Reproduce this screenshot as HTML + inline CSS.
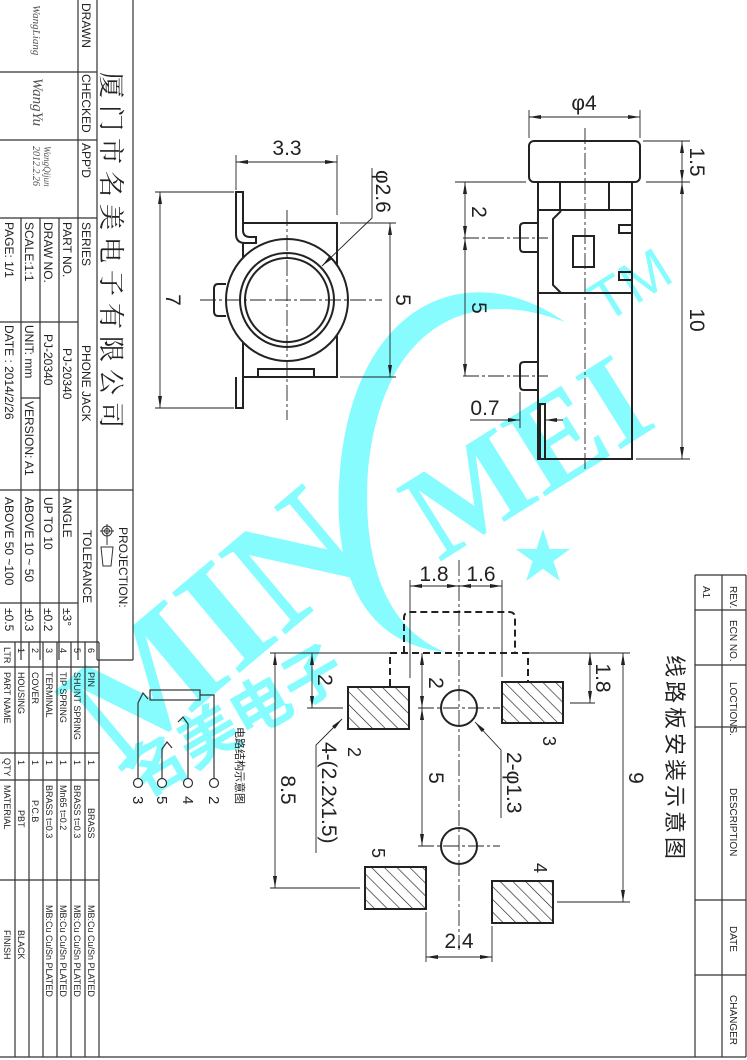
<!DOCTYPE html>
<html><head><meta charset="utf-8"><style>
html,body{margin:0;padding:0;background:#fff;}
svg{display:block;}
text{font-family:"Liberation Sans","Noto Sans CJK SC",sans-serif;fill:#222;}
.n{font-family:"Liberation Sans Narrow","Liberation Sans","Noto Sans CJK SC",sans-serif;}
.d{font-size:21px;}
.wm{fill:#86fcff;font-family:"Liberation Serif",serif;font-weight:bold;}
</style></head><body>
<svg width="747" height="1060" viewBox="0 0 747 1060" xmlns="http://www.w3.org/2000/svg">
<defs>
<marker id="a" viewBox="0 0 12 4" refX="12" refY="2" markerWidth="13" markerHeight="4" markerUnits="userSpaceOnUse" orient="auto-start-reverse"><path d="M0,0 L12,2 L0,4 z" fill="#222"/></marker>
<pattern id="h" width="9" height="9" patternUnits="userSpaceOnUse" patternTransform="rotate(-45)"><line x1="0" y1="0" x2="0" y2="9" stroke="#222" stroke-width="1.3"/></pattern>
</defs>

<g fill="#86fcff">
<path d="M565,322 C470,255 355,300 340,470 C330,585 372,645 445,652 C385,628 362,560 368,470 C382,325 470,285 565,322 Z"/>
<text class="wm" x="212" y="680" transform="rotate(-40 212 628)" font-size="160" text-anchor="middle">MIN</text>
<text class="wm" x="527" y="500" transform="rotate(-32 527 458)" font-size="130" text-anchor="middle">MEI</text>
<text x="630" y="305" transform="rotate(-32 630 285)" font-size="58" text-anchor="middle" style="fill:#86fcff">TM</text>
<text x="543" y="577" font-size="58" text-anchor="middle" style="fill:#86fcff">★</text>
<text x="235" y="742" transform="rotate(-30 235 722)" font-size="60" text-anchor="middle" style="fill:#86fcff;font-family:'Noto Sans CJK SC',sans-serif;font-weight:bold">名美电子</text>
</g>

<g stroke="#333" fill="none" stroke-width="1.2">
<line x1="133" y1="0" x2="133" y2="660"/>
<line x1="97" y1="0" x2="97" y2="660"/>
<line x1="78" y1="0" x2="78" y2="490"/>
<line x1="0" y1="72" x2="97" y2="72"/>
<line x1="0" y1="140" x2="97" y2="140"/>
<line x1="0" y1="218" x2="97" y2="218"/>
<line x1="59" y1="218" x2="59" y2="490"/>
<line x1="40" y1="218" x2="40" y2="490"/>
<line x1="21" y1="218" x2="21" y2="490"/>
<line x1="0" y1="322" x2="78" y2="322"/>
<line x1="21" y1="398" x2="40" y2="398"/>
<line x1="0" y1="490" x2="133" y2="490"/>
<line x1="78" y1="490" x2="78" y2="660"/>
<line x1="59" y1="490" x2="59" y2="660"/>
<line x1="40" y1="490" x2="40" y2="660"/>
<line x1="21" y1="490" x2="21" y2="660"/>
<line x1="0" y1="603" x2="78" y2="603"/>
<line x1="97" y1="660" x2="133" y2="660"/>
<line x1="0" y1="642" x2="99" y2="642"/>
<line x1="99" y1="642" x2="99" y2="1057"/>
<line x1="85" y1="642" x2="85" y2="1057"/>
<line x1="71" y1="642" x2="71" y2="1057"/>
<line x1="57" y1="642" x2="57" y2="1057"/>
<line x1="43" y1="642" x2="43" y2="1057"/>
<line x1="29" y1="642" x2="29" y2="1057"/>
<line x1="15" y1="642" x2="15" y2="1057"/>
<line x1="0" y1="667" x2="99" y2="667"/>
<line x1="0" y1="753" x2="99" y2="753"/>
<line x1="0" y1="780" x2="99" y2="780"/>
<line x1="0" y1="880" x2="99" y2="880"/>
<line x1="0" y1="1057" x2="746" y2="1057"/>
<line x1="695" y1="575" x2="746" y2="575"/>
<line x1="695" y1="575" x2="695" y2="1057"/>
<line x1="722" y1="575" x2="722" y2="1057"/>
<line x1="746" y1="575" x2="746" y2="1057"/>
<line x1="695" y1="610" x2="746" y2="610"/>
<line x1="695" y1="665" x2="746" y2="665"/>
<line x1="695" y1="727" x2="746" y2="727"/>
<line x1="695" y1="900" x2="746" y2="900"/>
<line x1="695" y1="975" x2="746" y2="975"/>
</g>

<g class="n" font-size="12">
<text transform="translate(82,3) rotate(90)">DRAWN</text>
<text transform="translate(82,74) rotate(90)">CHECKED</text>
<text transform="translate(82,143) rotate(90)">APP'D</text>
<text transform="translate(82,222) rotate(90)">SERIES</text>
<text transform="translate(82,345) rotate(90)">PHONE JACK</text>
<text transform="translate(63,222) rotate(90)">PART  NO.</text>
<text transform="translate(63,348) rotate(90)">PJ-20340</text>
<text transform="translate(44,222) rotate(90)">DRAW NO.</text>
<text transform="translate(44,334) rotate(90)">PJ-20340</text>
<text transform="translate(25,222) rotate(90)">SCALE:1:1</text>
<text transform="translate(25,325) rotate(90)">UNIT: mm</text>
<text transform="translate(25,401) rotate(90)">VERSION: A1</text>
<text transform="translate(5,222) rotate(90)">PAGE:  1/1</text>
<text transform="translate(5,325) rotate(90)">DATE : 2014/2/26</text>
<text transform="translate(119,527) rotate(90)">PROJECTION:</text>
<text transform="translate(83,530) rotate(90)">TOLERANCE</text>
<text transform="translate(63,497) rotate(90)">ANGLE</text>
<text transform="translate(63,608) rotate(90)">±3°</text>
<text transform="translate(44,497) rotate(90)">UP TO 10</text>
<text transform="translate(44,608) rotate(90)">±0.2</text>
<text transform="translate(25,497) rotate(90)">ABOVE 10 ~ 50</text>
<text transform="translate(25,608) rotate(90)">±0.3</text>
<text transform="translate(5,497) rotate(90)">ABOVE 50 ~100</text>
<text transform="translate(5,608) rotate(90)">±0.5</text>
</g>
<text transform="translate(102,72) rotate(90)" font-size="26" letter-spacing="7" style="font-family:'Noto Serif CJK SC','Noto Sans CJK SC',serif">厦门市名美电子有限公司</text>
<g>
<text transform="translate(33,5) rotate(90)" font-size="11" style="fill:#555;font-family:'Liberation Serif',serif;font-style:italic">WangLiang</text>
<text transform="translate(33,78) rotate(90)" font-size="15" style="fill:#555;font-family:'Liberation Serif',serif;font-style:italic">WangYu</text>
<text transform="translate(44,146) rotate(90)" font-size="9" style="fill:#555;font-family:'Liberation Serif',serif;font-style:italic">WangQijun</text>
<text transform="translate(33,146) rotate(90)" font-size="10" style="fill:#555;font-family:'Liberation Serif',serif;font-style:italic">2012.2.26</text>
</g>
<g stroke="#333" fill="none" stroke-width="1">
<circle cx="107" cy="531" r="5"/><circle cx="107" cy="531" r="2.5"/>
<line x1="100" y1="531" x2="114" y2="531"/><line x1="107" y1="524" x2="107" y2="545"/>
<path d="M101,547 L113,547 L111,566 L103,566 Z"/>
</g>

<g class="n" font-size="9">
<text transform="translate(4,647) rotate(90)">LTR</text>
<text transform="translate(4,672) rotate(90)">PART NAME</text>
<text transform="translate(4,758) rotate(90)">QTY</text>
<text transform="translate(4,785) rotate(90)">MATERIAL</text>
<text transform="translate(4,930) rotate(90)">FINISH</text>
<text transform="translate(18,648) rotate(90)">1</text><text transform="translate(18,672) rotate(90)">HOUSING</text><text transform="translate(18,760) rotate(90)">1</text><text transform="translate(18,810) rotate(90)">PBT</text><text transform="translate(18,930) rotate(90)">BLACK</text>
<text transform="translate(32,648) rotate(90)">2</text><text transform="translate(32,672) rotate(90)">COVER</text><text transform="translate(32,760) rotate(90)">1</text><text transform="translate(32,800) rotate(90)">P.C.B</text>
<text transform="translate(46,648) rotate(90)">3</text><text transform="translate(46,672) rotate(90)">TERMINAL</text><text transform="translate(46,760) rotate(90)">1</text><text transform="translate(46,785) rotate(90)">BRASS  t=0.3</text><text transform="translate(46,905) rotate(90)">MB:Cu   Cu/Sn   PLATED</text>
<text transform="translate(60,648) rotate(90)">4</text><text transform="translate(60,672) rotate(90)">TIP  SPRING</text><text transform="translate(60,760) rotate(90)">1</text><text transform="translate(60,785) rotate(90)">Mn65  t=0.2</text><text transform="translate(60,905) rotate(90)">MB:Cu   Cu/Sn   PLATED</text>
<text transform="translate(74,648) rotate(90)">5</text><text transform="translate(74,672) rotate(90)">SHUNT  SPRING</text><text transform="translate(74,760) rotate(90)">1</text><text transform="translate(74,785) rotate(90)">BRASS  t=0.3</text><text transform="translate(74,905) rotate(90)">MB:Cu   Cu/Sn   PLATED</text>
<text transform="translate(88,648) rotate(90)">6</text><text transform="translate(88,672) rotate(90)">PIN</text><text transform="translate(88,760) rotate(90)">1</text><text transform="translate(88,808) rotate(90)">BRASS</text><text transform="translate(88,905) rotate(90)">MB:Cu   Cu/Sn   PLATED</text>
</g>
<g class="n" font-size="10">
<text transform="translate(730,586) rotate(90)">REV.</text>
<text transform="translate(730,620) rotate(90)">ECN NO.</text>
<text transform="translate(730,682) rotate(90)">LOCTIONS.</text>
<text transform="translate(730,788) rotate(90)">DESCRIPTION</text>
<text transform="translate(730,926) rotate(90)">DATE</text>
<text transform="translate(730,995) rotate(90)">CHANGER</text>
<text transform="translate(703,586) rotate(90)">A1</text>
</g>
<text transform="translate(667,655) rotate(90)" font-size="22" letter-spacing="4" style="font-family:'Noto Sans CJK SC',sans-serif">线路板安装示意图</text>

<g stroke="#333" fill="none" stroke-width="1.2">
<circle cx="138" cy="783" r="4.5" fill="#fff"/><circle cx="162" cy="783" r="4.5" fill="#fff"/><circle cx="188" cy="783" r="4.5" fill="#fff"/><circle cx="214" cy="783" r="4.5" fill="#fff"/>
<polyline points="138,779 138,703 143,693 148,699"/>
<rect x="150" y="690" width="50" height="10"/>
<polyline points="200,695 214,695 214,779"/>
<polyline points="188,779 188,724 183,717 178,722"/>
<polyline points="162,779 162,749 167,742 172,748"/>
</g>
<g font-size="15">
<text transform="translate(133,796) rotate(90)">3</text>
<text transform="translate(157,796) rotate(90)">5</text>
<text transform="translate(183,796) rotate(90)">4</text>
<text transform="translate(209,796) rotate(90)">2</text>
</g>
<text transform="translate(236,727) rotate(90)" font-size="11" style="font-family:'Noto Sans CJK SC',sans-serif">电路结构示意图</text>

<g stroke="#222" fill="none" stroke-width="2">
<path d="M243,223 L337,223 L337,377 L243,377 Z"/>
<path d="M236,192 L243,192 L243,230 Q243,237 250,237 L256,237 L256,243 L245,243 Q236,243 236,234 Z" fill="#fff"/>
<path d="M236,377 L236,408 L243,408 L243,377"/>
<path d="M226,284 L218,284 Q214,284 214,289 L214,311 Q214,316 218,316 L226,316"/>
<circle cx="287" cy="300" r="61" fill="#fff"/>
<circle cx="287" cy="300" r="47"/>
<circle cx="287" cy="300" r="42"/>
<rect x="258" y="369" width="56" height="8" fill="#fff"/>
</g>
<g stroke="#222" stroke-width="0.9" fill="none">
<line x1="200" y1="300" x2="382" y2="300" stroke-dasharray="16 3 3 3"/>
<line x1="287" y1="210" x2="287" y2="420" stroke-dasharray="16 3 3 3"/>
<line x1="236" y1="155" x2="236" y2="190"/><line x1="337" y1="155" x2="337" y2="215"/>
<line x1="236" y1="162" x2="337" y2="162" marker-start="url(#a)" marker-end="url(#a)"/>
<line x1="340" y1="223" x2="396" y2="223"/><line x1="340" y1="377" x2="396" y2="377"/>
<line x1="390" y1="223" x2="390" y2="377" marker-start="url(#a)" marker-end="url(#a)"/>
<line x1="155" y1="192" x2="234" y2="192"/><line x1="155" y1="408" x2="234" y2="408"/>
<line x1="160" y1="192" x2="160" y2="408" marker-start="url(#a)" marker-end="url(#a)"/>
<polyline points="372,168 372,218 322,266" marker-end="url(#a)"/>
</g>
<text class="d" x="287" y="155" text-anchor="middle">3.3</text>
<text class="d" transform="translate(396,300) rotate(90)" text-anchor="middle">5</text>
<text class="d" transform="translate(166,300) rotate(90)" text-anchor="middle">7</text>
<text class="d" transform="translate(376,170) rotate(90)">φ2.6</text>

<g stroke="#222" fill="none" stroke-width="2">
<rect x="529" y="141" width="111" height="41" rx="5"/>
<rect x="538" y="182" width="94" height="277"/>
<line x1="560" y1="182" x2="560" y2="210"/><line x1="609" y1="182" x2="609" y2="210"/>
<line x1="538" y1="210" x2="632" y2="210"/>
<line x1="538" y1="293" x2="632" y2="293"/>
<polyline points="561,211 553,219 553,285 561,293"/>
<path d="M632,225 L619,225 L619,233 L632,233"/>
<path d="M632,272 L619,272 L619,280 L632,280"/>
<rect x="573" y="236" width="21" height="31"/>
<path d="M538,223 L524,223 Q520,223 520,227 L520,248 Q520,252 524,252 L538,252"/>
<path d="M538,362 L524,362 Q520,362 520,366 L520,386 Q520,390 524,390 L538,390"/>
<rect x="540" y="404" width="5" height="55"/>
</g>
<g stroke="#222" stroke-width="0.9" fill="none">
<line x1="585" y1="128" x2="585" y2="472" stroke-dasharray="16 3 3 3"/>
<line x1="463" y1="238" x2="548" y2="238" stroke-dasharray="16 3 3 3"/>
<line x1="463" y1="376" x2="548" y2="376" stroke-dasharray="16 3 3 3"/>
<line x1="529" y1="110" x2="529" y2="138"/><line x1="640" y1="110" x2="640" y2="138"/>
<line x1="529" y1="117" x2="640" y2="117" marker-start="url(#a)" marker-end="url(#a)"/>
<line x1="643" y1="141" x2="690" y2="141"/><line x1="646" y1="182" x2="690" y2="182"/><line x1="636" y1="459" x2="690" y2="459"/>
<line x1="682" y1="141" x2="682" y2="182" marker-start="url(#a)" marker-end="url(#a)"/>
<line x1="682" y1="182" x2="682" y2="459" marker-start="url(#a)" marker-end="url(#a)"/>
<line x1="455" y1="182" x2="526" y2="182"/>
<line x1="465" y1="182" x2="465" y2="238" marker-start="url(#a)" marker-end="url(#a)"/>
<line x1="465" y1="238" x2="465" y2="376" marker-start="url(#a)" marker-end="url(#a)"/>
<line x1="520" y1="392" x2="520" y2="428"/>
<line x1="470" y1="420" x2="520" y2="420" marker-end="url(#a)"/>
<line x1="563" y1="420" x2="545" y2="420" marker-end="url(#a)"/>
</g>
<text class="d" x="584" y="110" text-anchor="middle">φ4</text>
<text class="d" transform="translate(690,162) rotate(90)" text-anchor="middle">1.5</text>
<text class="d" transform="translate(690,320) rotate(90)" text-anchor="middle">10</text>
<text class="d" transform="translate(472,212) rotate(90)" text-anchor="middle">2</text>
<text class="d" transform="translate(472,308) rotate(90)" text-anchor="middle">5</text>
<text class="d" x="485" y="415" text-anchor="middle">0.7</text>

<g stroke="#222" fill="none" stroke-width="2" stroke-dasharray="7 4">
<path d="M404,653 L404,618 Q404,612 410,612 L509,612 Q515,612 515,618 L515,653"/>
<path d="M390,686 L390,653 L528,653 L528,681"/>
</g>
<g stroke="#222" stroke-width="2">
<rect x="348" y="687" width="61" height="42" fill="url(#h)"/>
<rect x="502" y="682" width="61" height="41" fill="url(#h)"/>
<rect x="365" y="867" width="61" height="42" fill="url(#h)"/>
<rect x="492" y="881" width="61" height="42" fill="url(#h)"/>
<circle cx="459" cy="708" r="18" fill="none"/>
<circle cx="459" cy="846" r="18" fill="none"/>
</g>
<g stroke="#222" stroke-width="0.9" fill="none">
<line x1="459" y1="560" x2="459" y2="950" stroke-dasharray="16 3 3 3"/>
<line x1="418" y1="708" x2="500" y2="708" stroke-dasharray="16 3 3 3"/>
<line x1="418" y1="846" x2="500" y2="846" stroke-dasharray="16 3 3 3"/>
<line x1="270" y1="653" x2="390" y2="653"/><line x1="528" y1="653" x2="630" y2="653"/>
<line x1="410" y1="580" x2="410" y2="678"/><line x1="502" y1="580" x2="502" y2="677"/>
<line x1="410" y1="586" x2="459" y2="586" marker-start="url(#a)" marker-end="url(#a)"/>
<line x1="459" y1="586" x2="502" y2="586" marker-start="url(#a)" marker-end="url(#a)"/>
<line x1="307" y1="708" x2="343" y2="708"/>
<line x1="312" y1="653" x2="312" y2="708" marker-start="url(#a)" marker-end="url(#a)"/>
<line x1="422" y1="653" x2="422" y2="708" marker-start="url(#a)" marker-end="url(#a)"/>
<line x1="422" y1="708" x2="422" y2="846" marker-start="url(#a)" marker-end="url(#a)"/>
<line x1="570" y1="703" x2="595" y2="703"/>
<line x1="590" y1="653" x2="590" y2="703" marker-start="url(#a)" marker-end="url(#a)"/>
<line x1="557" y1="902" x2="630" y2="902"/>
<line x1="623" y1="653" x2="623" y2="902" marker-start="url(#a)" marker-end="url(#a)"/>
<line x1="270" y1="888" x2="360" y2="888"/>
<line x1="275" y1="653" x2="275" y2="888" marker-start="url(#a)" marker-end="url(#a)"/>
<line x1="426" y1="912" x2="426" y2="962"/><line x1="492" y1="926" x2="492" y2="962"/>
<line x1="426" y1="957" x2="492" y2="957" marker-start="url(#a)" marker-end="url(#a)"/>
<polyline points="316,853 316,745 342,719" marker-end="url(#a)"/>
<polyline points="501,818 501,750 475,722" marker-end="url(#a)"/>
</g>
<text class="d" x="434" y="581" text-anchor="middle">1.8</text>
<text class="d" x="481" y="581" text-anchor="middle">1.6</text>
<text class="d" transform="translate(318,680) rotate(90)" text-anchor="middle">2</text>
<text class="d" transform="translate(429,683) rotate(90)" text-anchor="middle">2</text>
<text class="d" transform="translate(429,778) rotate(90)" text-anchor="middle">5</text>
<text class="d" transform="translate(596,678) rotate(90)" text-anchor="middle">1.8</text>
<text class="d" transform="translate(629,778) rotate(90)" text-anchor="middle">9</text>
<text class="d" transform="translate(281,790) rotate(90)" text-anchor="middle">8.5</text>
<text class="d" x="459" y="948" text-anchor="middle">2.4</text>
<text class="d" transform="translate(322,742) rotate(90)">4-(2.2x1.5)</text>
<text class="d" transform="translate(507,752) rotate(90)">2-φ1.3</text>
<text transform="translate(348,752) rotate(90)" text-anchor="middle" font-size="18">2</text>
<text transform="translate(543,741) rotate(90)" text-anchor="middle" font-size="18">3</text>
<text transform="translate(372,853) rotate(90)" text-anchor="middle" font-size="18">5</text>
<text transform="translate(534,868) rotate(90)" text-anchor="middle" font-size="18">4</text>
</svg>
</body></html>
